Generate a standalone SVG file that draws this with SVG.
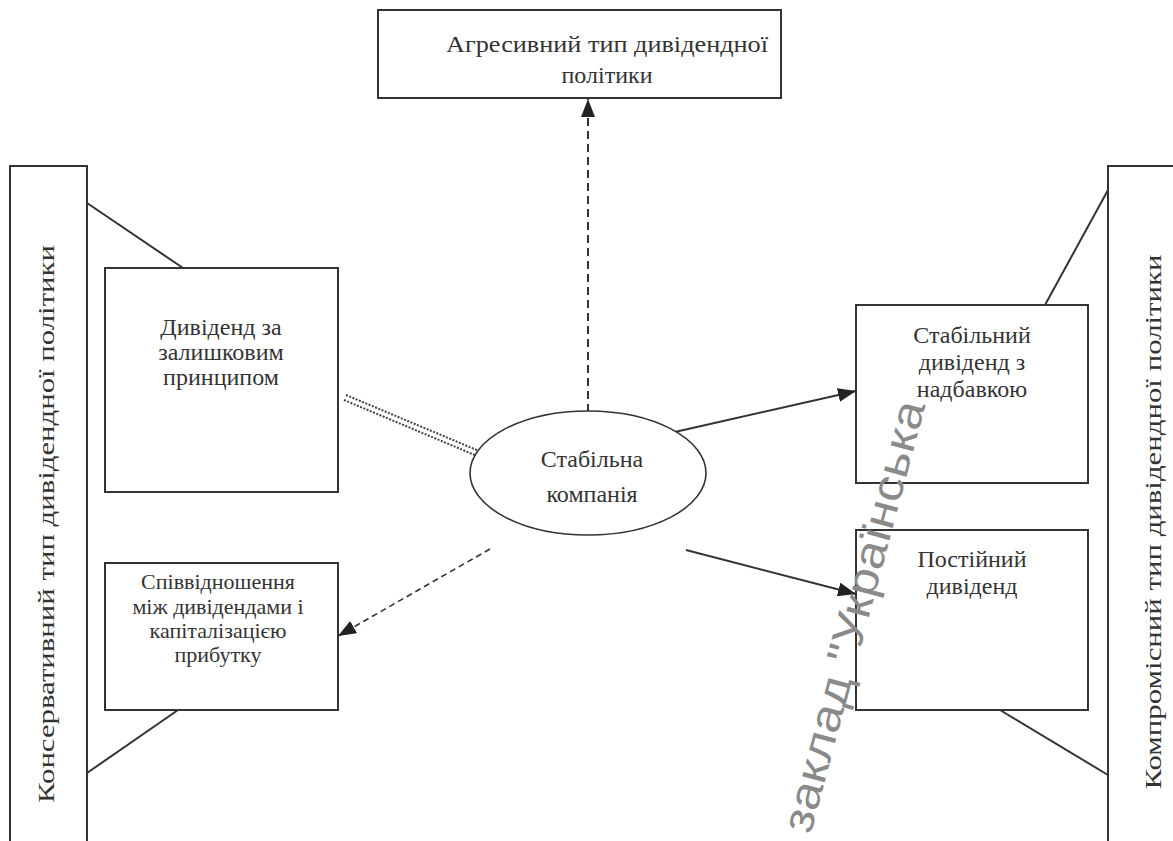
<svg xmlns="http://www.w3.org/2000/svg" width="1173" height="841" viewBox="0 0 1173 841">
<defs>
<style>
.box{fill:#fff;stroke:#333;stroke-width:2}
.ln{fill:none;stroke:#333;stroke-width:2}
.t{font-size:24px;fill:#333;text-anchor:middle}
.t2{font-size:22px;fill:#333;text-anchor:middle}
.wm{font-family:'Liberation Sans',Arial,sans-serif;font-size:44px;fill:#8a8a8a;text-anchor:middle}
</style>
<marker id="ah" viewBox="0 0 18 14" refX="18" refY="7" markerWidth="18" markerHeight="14" markerUnits="userSpaceOnUse" orient="auto">
<path d="M0,0 L18,7 L0,14 Z" fill="#222"/>
</marker>
</defs>
<rect width="1173" height="841" fill="#fff"/>

<g id="connectors">
<line class="ln" x1="87" y1="203" x2="183" y2="268"/>
<line class="ln" x1="87" y1="773" x2="178" y2="710"/>
<line class="ln" x1="1108" y1="190" x2="1045" y2="305"/>
<line class="ln" x1="1108" y1="775" x2="1000" y2="710"/>
<line class="ln" x1="588" y1="412" x2="588" y2="99" stroke-dasharray="8,5" marker-end="url(#ah)"/>
<line x1="490" y1="549" x2="338" y2="636" stroke="#333" stroke-width="1.6" stroke-dasharray="6,4" marker-end="url(#ah)"/>
<line class="ln" x1="666" y1="434" x2="856" y2="391" marker-end="url(#ah)"/>
<line class="ln" x1="686" y1="550" x2="856" y2="594" marker-end="url(#ah)"/>
<line x1="346" y1="395" x2="491" y2="456" stroke="#444" stroke-width="2" stroke-dasharray="2,1.5"/>
<line x1="344" y1="400" x2="489" y2="461" stroke="#444" stroke-width="2" stroke-dasharray="2,1.5"/>
</g>

<g font-family="Liberation Serif, serif">
<g id="aggressive">
<rect class="box" x="378" y="10" width="403" height="88"/>
<text class="t" x="607" y="52" textLength="322" lengthAdjust="spacingAndGlyphs">Агресивний тип дивідендної</text>
<text class="t" x="607" y="83">політики</text>
</g>

<g id="conservative">
<rect class="box" x="10" y="166" width="77" height="690"/>
<text class="t" transform="translate(54,524) rotate(-90)" textLength="558" lengthAdjust="spacingAndGlyphs">Консервативний тип дивідендної політики</text>
</g>

<g id="compromise">
<rect class="box" x="1108" y="166" width="80" height="690"/>
<text class="t" transform="translate(1161,522) rotate(-90)" textLength="535" lengthAdjust="spacingAndGlyphs">Компромісний тип дивідендної політики</text>
</g>

<g id="residual">
<rect class="box" x="105" y="268" width="233" height="224"/>
<text class="t" x="221" y="335">Дивіденд за</text>
<text class="t" x="221" y="360">залишковим</text>
<text class="t" x="221" y="385">принципом</text>
</g>

<g id="ratio">
<rect class="box" x="105" y="563" width="233" height="147"/>
<text class="t2" x="218" y="589">Співвідношення</text>
<text class="t2" x="218" y="614">між дивідендами і</text>
<text class="t2" x="218" y="638">капіталізацією</text>
<text class="t2" x="218" y="662">прибутку</text>
</g>

<g id="company">
<ellipse cx="588" cy="473" rx="118" ry="62" fill="#fff" stroke="#333" stroke-width="1.6"/>
<text class="t" x="592" y="467">Стабільна</text>
<text class="t" x="592" y="502">компанія</text>
</g>

<g id="stable-bonus">
<rect class="box" x="856" y="305" width="232" height="178"/>
<text class="t" x="972" y="343">Стабільний</text>
<text class="t" x="972" y="370">дивіденд з</text>
<text class="t" x="972" y="397">надбавкою</text>
</g>

<g id="constant">
<rect class="box" x="856" y="530" width="232" height="180"/>
<text class="t" x="972" y="567">Постійний</text>
<text class="t" x="972" y="594">дивіденд</text>
</g>
</g>

<text class="wm" transform="translate(868,620) rotate(-75)" textLength="445" lengthAdjust="spacingAndGlyphs">заклад "Українська</text>
</svg>
